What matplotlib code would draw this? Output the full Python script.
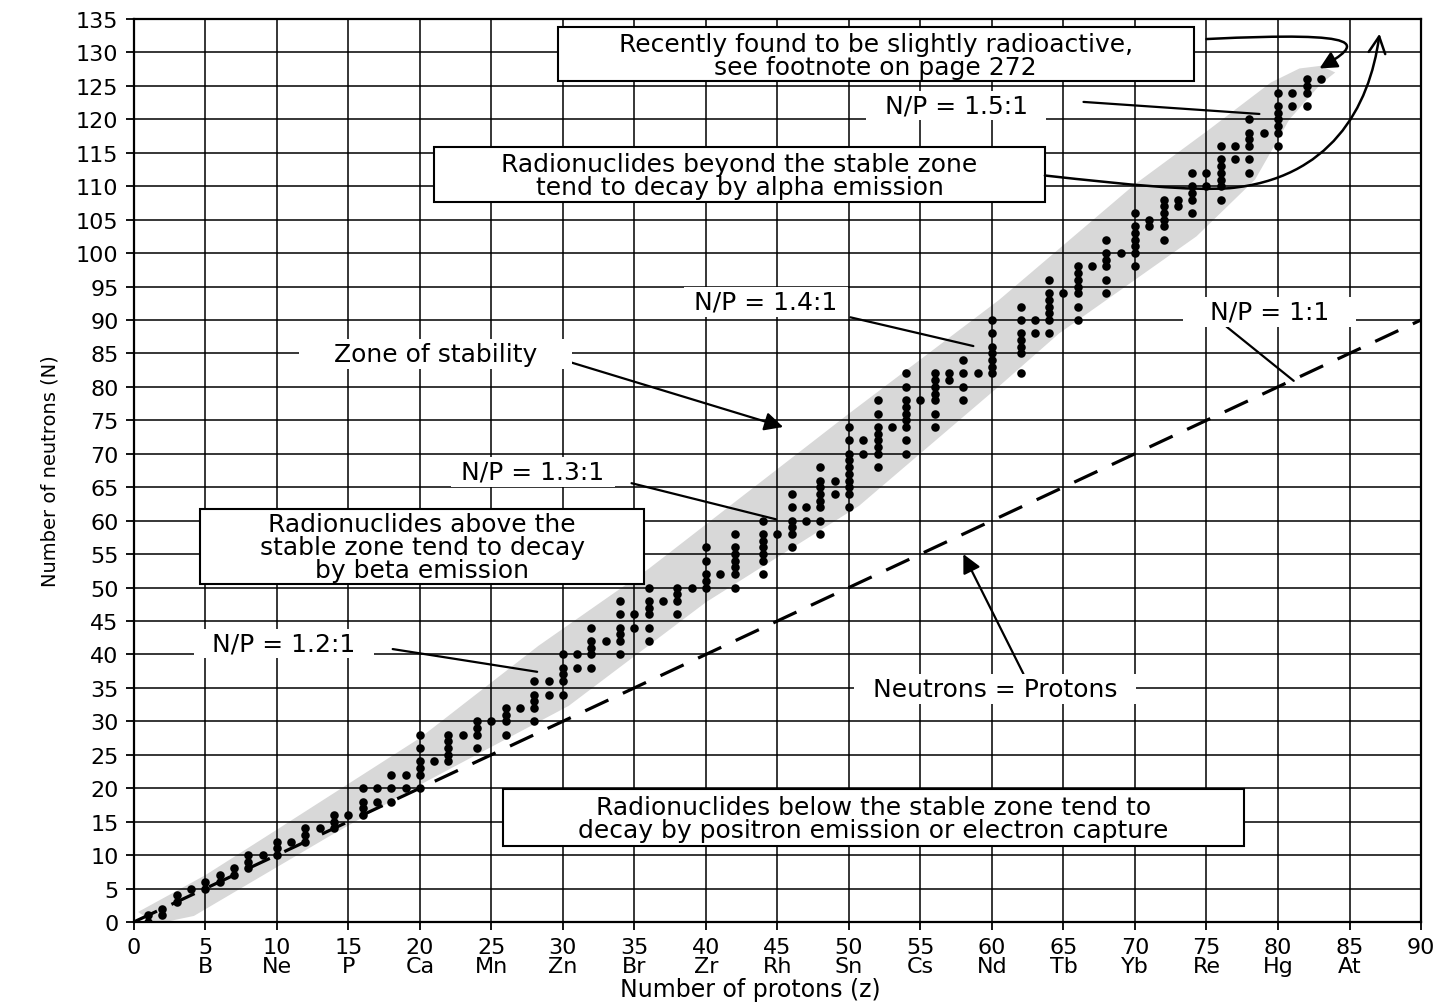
import numpy as np
import matplotlib
matplotlib.use("Agg")
import matplotlib.pyplot as plt
from matplotlib.patches import Rectangle, FancyArrowPatch
from matplotlib.path import Path

# stable nuclides: neutron counts for Z = 1 .. 83
stable_neutrons = [
    [0, 1], [1, 2], [3, 4], [5], [5, 6], [6, 7], [7, 8], [8, 9, 10], [10],
    [10, 11, 12], [12], [12, 13, 14], [14], [14, 15, 16], [16],
    [16, 17, 18, 20], [18, 20], [18, 20, 22], [20, 22],
    [20, 22, 23, 24, 26, 28], [24], [24, 25, 26, 27, 28], [28],
    [26, 28, 29, 30], [30], [28, 30, 31, 32], [32], [30, 32, 33, 34, 36],
    [34, 36], [34, 36, 37, 38, 40], [38, 40], [38, 40, 41, 42, 44], [42],
    [40, 42, 43, 44, 46, 48], [44, 46], [42, 44, 46, 47, 48, 50], [48],
    [46, 48, 49, 50], [50], [50, 51, 52, 54, 56], [52],
    [50, 52, 53, 54, 55, 56, 58], [], [52, 54, 55, 56, 57, 58, 60], [58],
    [56, 58, 59, 60, 62, 64], [60, 62], [58, 60, 62, 63, 64, 65, 66, 68],
    [64, 66], [62, 64, 65, 66, 67, 68, 69, 70, 72, 74], [70, 72],
    [68, 70, 71, 72, 73, 74, 76, 78], [74],
    [70, 72, 74, 75, 76, 77, 78, 80, 82], [78],
    [74, 76, 78, 79, 80, 81, 82], [81, 82], [78, 80, 82, 84], [82],
    [82, 83, 84, 85, 86, 88, 90], [], [82, 85, 86, 87, 88, 90, 92],
    [88, 90], [88, 90, 91, 92, 93, 94, 96], [94],
    [90, 92, 94, 95, 96, 97, 98], [98], [94, 96, 98, 99, 100, 102], [100],
    [98, 100, 101, 102, 103, 104, 106], [104, 105],
    [102, 104, 105, 106, 107, 108], [107, 108], [106, 108, 109, 110, 112],
    [110, 112], [108, 110, 111, 112, 113, 114, 116], [114, 116],
    [112, 114, 116, 117, 118, 120], [118],
    [116, 118, 119, 120, 121, 122, 124], [122, 124], [122, 124, 125, 126],
    [126],
]

# zone of stability outline
band_upper_z = [0.3, 5, 10, 20, 28.3, 36, 50, 60.5, 70, 75.2, 79.5, 81.5, 83]
band_upper_n = [1.5, 7, 13.8, 27.5, 41.3, 52.8, 76, 93, 110.3, 118.5, 125.5, 127.6, 128]
band_lower_z = [1.5, 4.2, 13.5, 20, 30.4, 40, 50.7, 60.5, 64.7, 74.3, 78.4, 80.8, 83, 84]
band_lower_n = [-0.3, 0.9, 12.6, 20.5, 32.3, 47.8, 62.2, 80.1, 88, 102.5, 111, 120, 125.3, 127]

equal_line_z = [0, 90]

x_ticks = list(range(0, 91, 5))
x_symbols = ["", "B", "Ne", "P", "Ca", "Mn", "Zn", "Br", "Zr", "Rh", "Sn",
             "Cs", "Nd", "Tb", "Yb", "Re", "Hg", "At", ""]
y_ticks = list(range(0, 136, 5))

z_pts, n_pts = [], []
for z, ns in enumerate(stable_neutrons, start=1):
    for n in ns:
        z_pts.append(z)
        n_pts.append(n)

TXT = 18

fig = plt.figure(figsize=(14.39, 10.04), dpi=100)
ax = fig.add_axes([0.093, 0.0807, 0.8945, 0.8994])
ax.set_xlim(0, 90)
ax.set_ylim(0, 135)

ax.set_xticks(x_ticks)
ax.set_xticklabels([f"{t}\n{s}" for t, s in zip(x_ticks, x_symbols)],
                   linespacing=0.9)
ax.set_yticks(y_ticks)
ax.tick_params(labelsize=16, length=6, width=1.3, pad=5, direction="out")
ax.grid(True, color="black", lw=1.1)
ax.set_axisbelow(True)
for sp in ax.spines.values():
    sp.set_linewidth(1.6)

ax.set_xlabel("Number of protons (z)", fontsize=17, labelpad=1, x=0.479)
ax.set_ylabel("Number of neutrons (N)", fontsize=14, labelpad=12)

# gray zone
band_z = np.concatenate([band_upper_z, band_lower_z[::-1]])
band_n = np.concatenate([band_upper_n, band_lower_n[::-1]])
ax.fill(band_z, band_n, color="#d8d8d8", lw=0, zorder=0.2)

# N = Z line
ax.plot(equal_line_z, equal_line_z, color="black", lw=2.3,
        dashes=(8, 5), zorder=3)

ax.scatter(z_pts, n_pts, s=38, color="black", zorder=4, linewidths=0)


def boxed(z0, z1, n0, n1, text):
    ax.add_patch(Rectangle((z0, n0), z1 - z0, n1 - n0, fc="white",
                           ec="black", lw=1.5, zorder=5))
    ax.text((z0 + z1) / 2, (n0 + n1) / 2 - 0.2, text, ha="center",
            va="center", fontsize=TXT, linespacing=0.95, zorder=6)


def label(z, n, text):
    ax.text(z, n, text, ha="center", va="center", fontsize=TXT, zorder=6,
            bbox=dict(fc="white", ec="none", pad=2))


def leader(start, end, style="-", scale=20):
    ax.annotate("", xy=end, xytext=start, zorder=5,
                arrowprops=dict(arrowstyle=style, lw=1.6, color="black",
                                shrinkA=0, shrinkB=0, mutation_scale=scale))


boxed(29.65, 74.1, 125.7, 133.8,
      "Recently found to be slightly radioactive,\nsee footnote on page 272")
boxed(21.0, 63.7, 107.6, 115.9,
      "Radionuclides beyond the stable zone\ntend to decay by alpha emission")
boxed(4.6, 35.7, 50.6, 61.8,
      "Radionuclides above the\nstable zone tend to decay\nby beta emission")
boxed(25.8, 77.6, 11.4, 19.9,
      "Radionuclides below the stable zone tend to\n"
      "decay by positron emission or electron capture")

label(57.5, 122.1, "  N/P = 1.5:1  ")
leader((66.4, 122.6), (78.7, 120.8))
label(44.2, 92.7, " N/P = 1.4:1 ")
leader((50.1, 90.4), (58.7, 86.1))
label(79.4, 91.2, "   N/P = 1:1   ")
leader((76.4, 89.0), (81.1, 80.9))
label(21.1, 84.9, "    Zone of stability    ")
leader((30.5, 83.7), (45.4, 74.0), "-|>", 28)
label(27.9, 67.3, " N/P = 1.3:1 ")
leader((34.8, 65.6), (44.9, 60.2))
label(10.5, 41.6, "  N/P = 1.2:1  ")
leader((18.1, 40.8), (28.2, 37.4))
label(60.2, 34.8, "  Neutrons = Protons  ")
leader((62.2, 37.1), (58.0, 55.0), "-|>", 28)

# curved arrows at the top right
hook = Path([(75.0, 132.0), (86.6, 133.2), (85.9, 131.3), (82.9, 127.6)],
            [Path.MOVETO, Path.CURVE4, Path.CURVE4, Path.CURVE4])
ax.add_patch(FancyArrowPatch(path=hook, arrowstyle="-|>", mutation_scale=26,
                             lw=1.8, color="black", zorder=6))
alpha = Path([(63.7, 111.6), (69.6, 110.2), (73.8, 109.3), (76.6, 109.7),
              (83.6, 111.1), (86.4, 121.6), (87.1, 132.8)],
             [Path.MOVETO, Path.CURVE4, Path.CURVE4, Path.CURVE4,
              Path.CURVE4, Path.CURVE4, Path.CURVE4])
ax.add_patch(FancyArrowPatch(path=alpha, arrowstyle="->", mutation_scale=30,
                             lw=1.8, color="black", zorder=6))

fig.savefig("out.png", dpi=100)
